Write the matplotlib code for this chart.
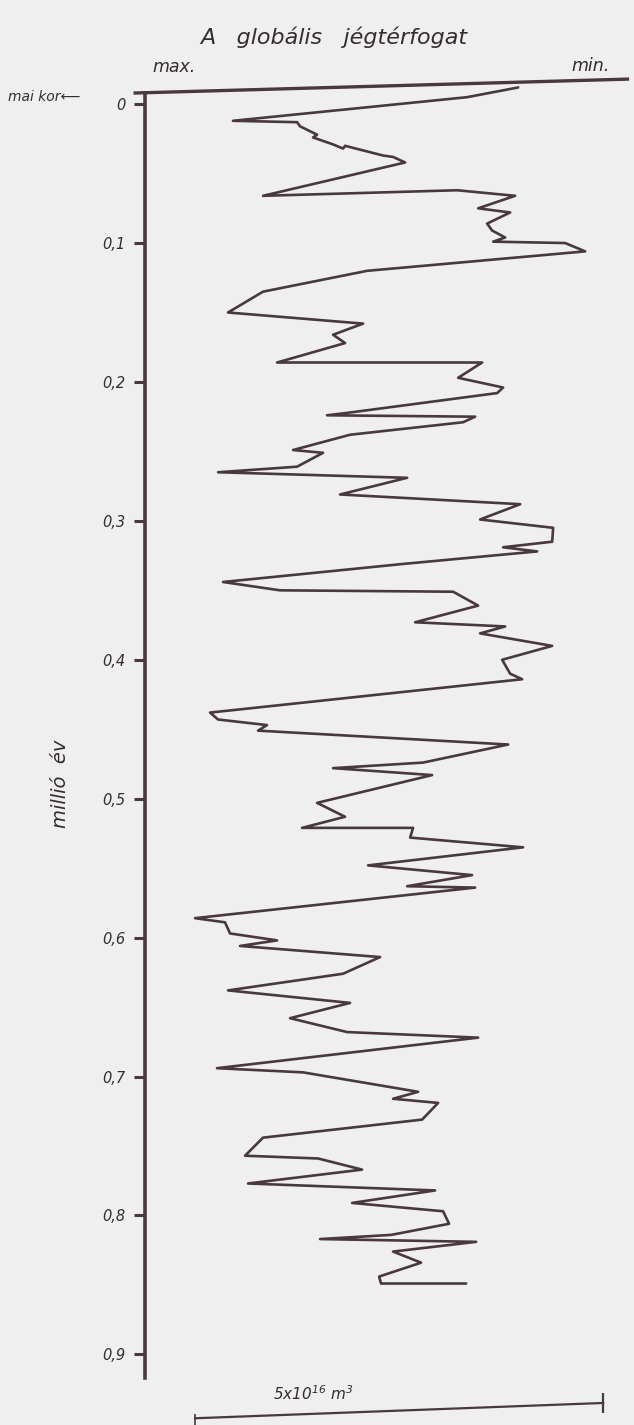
import matplotlib.pyplot as plt
import numpy as np

plt.rcParams['font.family'] = ['DejaVu Sans']
plt.rcParams['font.style'] = 'italic'

### data
# age in million years (0 = present), ice volume below the maximum in 1e16 m^3
age = [-0.012, -0.005, 0.012, 0.013, 0.016, 0.022, 0.024, 0.029, 0.032, 0.030,
       0.037, 0.038, 0.042, 0.066, 0.062, 0.066, 0.075, 0.078, 0.086, 0.091,
       0.096, 0.099, 0.100, 0.106, 0.120, 0.135, 0.150, 0.158, 0.166, 0.172,
       0.186, 0.186, 0.197, 0.204, 0.208, 0.222, 0.224, 0.225, 0.229, 0.238,
       0.249, 0.251, 0.261, 0.265, 0.269, 0.281, 0.288, 0.299, 0.305, 0.315,
       0.319, 0.322, 0.331, 0.344, 0.350, 0.351, 0.361, 0.373, 0.376, 0.381,
       0.390, 0.400, 0.410, 0.414, 0.438, 0.443, 0.447, 0.451, 0.461, 0.474,
       0.478, 0.483, 0.503, 0.513, 0.521, 0.521, 0.528, 0.535, 0.548, 0.555,
       0.563, 0.564, 0.586, 0.589, 0.597, 0.602, 0.606, 0.614, 0.626, 0.638,
       0.647, 0.658, 0.668, 0.672, 0.694, 0.697, 0.711, 0.716, 0.719, 0.731,
       0.744, 0.757, 0.759, 0.767, 0.777, 0.782, 0.791, 0.797, 0.806, 0.814,
       0.817, 0.819, 0.826, 0.834, 0.844, 0.849, 0.849]
vol = [4.571, 3.946, 1.078, 1.863, 1.900, 2.108, 2.059, 2.304, 2.427, 2.451,
       2.917, 3.039, 3.186, 1.446, 3.824, 4.534, 4.081, 4.473, 4.191, 4.252,
       4.412, 4.265, 5.147, 5.392, 2.721, 1.446, 1.017, 2.672, 2.304, 2.451,
       1.618, 4.130, 3.836, 4.387, 4.314, 2.512, 2.230, 4.044, 3.897, 2.512,
       1.814, 2.181, 1.863, 0.895, 3.211, 2.390, 4.596, 4.105, 5.000, 4.988,
       4.387, 4.804, 3.162, 0.956, 1.654, 3.775, 4.081, 3.309, 4.412, 4.105,
       4.988, 4.375, 4.473, 4.620, 0.797, 0.895, 1.495, 1.385, 4.449, 3.407,
       2.304, 3.517, 2.108, 2.451, 1.924, 3.284, 3.248, 4.632, 2.733, 4.007,
       3.211, 4.044, 0.613, 0.980, 1.042, 1.618, 1.164, 2.880, 2.426, 1.017,
       2.512, 1.777, 2.476, 4.081, 0.882, 1.936, 3.346, 3.039, 3.591, 3.395,
       1.446, 1.226, 2.120, 2.659, 1.262, 3.554, 2.537, 3.652, 3.725, 3.015,
       2.145, 4.056, 3.039, 3.382, 2.868, 2.892, 3.934]

age_ticks = [0, 0.1, 0.2, 0.3, 0.4, 0.5, 0.6, 0.7, 0.8, 0.9]
tick_labels = ['0', '0,1', '0,2', '0,3', '0,4', '0,5', '0,6', '0,7', '0,8', '0,9']

scale_bar = 5  # 5x10^16 m^3

ink = '#4a393c'
txt = '#352c2f'
paper = '#efefef'

fig = plt.figure(figsize=(6.34, 14.25), dpi=100, facecolor=paper)
ax = fig.add_axes([0.2287, 0.0330, 0.7571, 0.9144])
ax.set_facecolor(paper)

ax.plot(vol, age, color=ink, lw=1.9, solid_joinstyle='round', solid_capstyle='round')

ax.set_xlim(0, 5.88)
ax.set_ylim(0.917, -0.021)

for s in ['top', 'right', 'bottom']:
    ax.spines[s].set_visible(False)
ax.spines['left'].set_color(ink)
ax.spines['left'].set_linewidth(2.6)
ax.spines['left'].set_bounds(-0.008, 0.917)

ax.set_xticks([])
ax.set_yticks(age_ticks)
ax.set_yticklabels(tick_labels)
ax.tick_params(axis='y', direction='out', length=8, width=2.2, color=ink,
               labelsize=10.5, pad=6, labelcolor=txt)

# "0" line across the top (slightly tilted in the drawing)
ax.plot([-0.12, 5.91], [-0.008, -0.018], color=ink, lw=2.4, clip_on=False)

ax.text(0.09, -0.020, 'max.', fontsize=12.5, color=txt, ha='left', va='bottom')
ax.text(5.22, -0.021, 'min.', fontsize=12.5, color=txt, ha='left', va='bottom')

yax = ax.get_yaxis_transform()
ax.text(-0.285, -0.005, 'mai kor\u27f5', transform=yax, fontsize=10,
        color=txt, ha='left', va='center')
ax.text(-0.177, 0.489, 'millió  év', transform=yax, fontsize=14, rotation=90,
        color=txt, ha='center', va='center')

fig.text(0.527, 0.974, 'A   globális   jégtérfogat', fontsize=16, color=txt,
         ha='center', va='center')

# scale bar below the chart
x0 = 0.613
ax.plot([x0, x0 + scale_bar], [0.946, 0.935], color=ink, lw=1.6, clip_on=False)
ax.plot([x0 + scale_bar], [0.935], marker='|', ms=14, mew=1.6, color=ink, clip_on=False)
ax.plot([x0], [0.947], marker='|', ms=9, mew=1.2, color=ink, clip_on=False)
ax.text(x0 + 1.45, 0.928, '5x10$^{16}$ m$^{3}$', fontsize=11, color=txt,
        ha='center', va='center')

fig.savefig('out.png', dpi=100, facecolor=paper)
